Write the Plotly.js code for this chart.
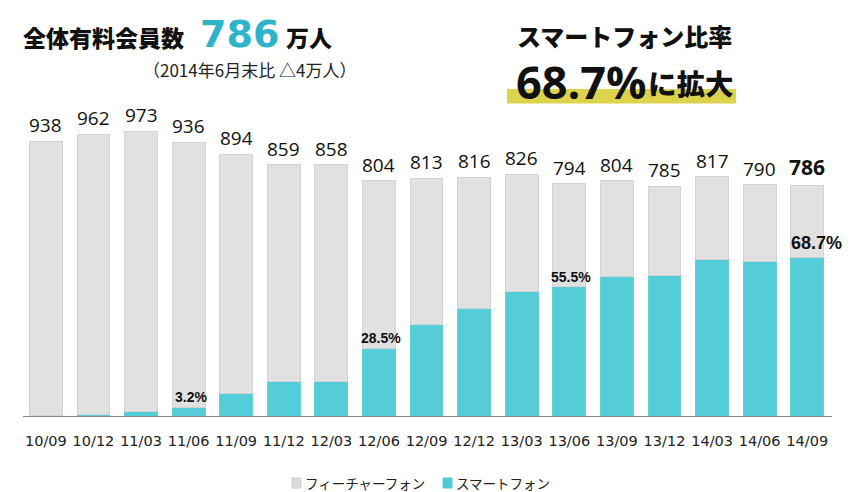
<!DOCTYPE html>
<html>
<head>
<meta charset="utf-8">
<script src="https://cdn.plot.ly/plotly-3.0.1.min.js"></script>
<style>
html,body{margin:0;padding:0;background:#fff;}
#chart{width:859px;height:492px;}
</style>
</head>
<body>
<div id="chart"></div>
<script>
// ---- data ----
var categories = ['10/09','10/12','11/03','11/06','11/09','11/12','12/03','12/06','12/09','12/12','13/03','13/06','13/09','13/12','14/03','14/06','14/09'];
var totalMembers = [938, 962, 973, 936, 894, 859, 858, 804, 813, 816, 826, 794, 804, 785, 817, 790, 786];
var smartphone = [1, 4, 14, 30, 76, 117, 117, 232, 314, 368, 426, 441, 477, 480, 534, 527, 540];
var featurePhone = totalMembers.map(function(t, i){ return t - smartphone[i]; });
var pctLabels = ['', '', '', '3.2%', '', '', '', '28.5%', '', '', '', '55.5%', '', '', '', '', '68.7%'];
var seriesNames = ['フィーチャーフォン', 'スマートフォン'];

// ---- layout helpers (pixel -> paper) ----
var L = 23, T = 124, W = 809, H = 292;
function px(x){ return (x - L) / W; }
function py(y){ return (T + H - y) / H; }

var JP = '"Noto Sans CJK JP", "Noto Sans", sans-serif';

var traces = [
  {
    type: 'bar', name: seriesNames[1], x: categories, y: smartphone,
    marker: {color: '#55cdd8', line: {color: '#62d3cd', width: 1}},
    hoverinfo: 'skip'
  },
  {
    type: 'bar', name: seriesNames[0], x: categories, y: featurePhone,
    marker: {color: '#e1e1e1', line: {color: '#d3d3d3', width: 1}},
    hoverinfo: 'skip'
  }
];

var annotations = [];
categories.forEach(function(c, i){
  var last = (i === categories.length - 1);
  annotations.push({
    x: c, y: totalMembers[i], xref: 'x', yref: 'y',
    text: String(totalMembers[i]), showarrow: false,
    yanchor: 'middle', yshift: last ? 19 : 16,
    font: {family: '"Open Sans", sans-serif', size: last ? 21 : 19, color: '#111', weight: last ? 'bold' : 'normal'}
  });
  if (pctLabels[i]) {
    annotations.push({
      x: c, y: smartphone[i], xref: 'x', yref: 'y',
      text: pctLabels[i], showarrow: false,
      yanchor: 'middle', yshift: last ? 15 : 10, xshift: last ? 9 : 2,
      font: {family: '"Liberation Sans", Arial, sans-serif', size: last ? 18 : 14, color: '#111', weight: 'bold'}
    });
  }
});

// headline texts
annotations.push(
  {xref:'paper', yref:'paper', x: px(21), y: py(37), xanchor:'left', yanchor:'middle', showarrow:false,
   text:'全体有料会員数', font:{family: JP, size: 23, color:'#111', weight: 900}},
  {xref:'paper', yref:'paper', x: px(198), y: py(34), xanchor:'left', yanchor:'middle', showarrow:false,
   text:'786', font:{family:'"DejaVu Sans", sans-serif', size: 38, color:'#2db4c9', weight: 'bold'}},
  {xref:'paper', yref:'paper', x: px(284), y: py(37), xanchor:'left', yanchor:'middle', showarrow:false,
   text:'万人', font:{family: JP, size: 23, color:'#111', weight: 900}},
  {xref:'paper', yref:'paper', x: px(141), y: py(70), xanchor:'left', yanchor:'middle', showarrow:false,
   text:'（2014年6月末比 △4万人）', font:{family: JP, size: 17, color:'#222'}},
  {xref:'paper', yref:'paper', x: px(624), y: py(36), xanchor:'center', yanchor:'middle', showarrow:false,
   text:'スマートフォン比率', font:{family: JP, size: 24, color:'#111', weight: 900}},
  {xref:'paper', yref:'paper', x: px(514), y: py(81), xanchor:'left', yanchor:'middle', showarrow:false,
   text:'68.7%', font:{family:'"Open Sans", sans-serif', size: 45, color:'#111', weight: 'bold'}},
  {xref:'paper', yref:'paper', x: px(736), y: py(82), xanchor:'right', yanchor:'middle', showarrow:false,
   text:'に拡大', font:{family: JP, size: 28.5, color:'#111', weight: 900}},
  // legend texts
  {xref:'paper', yref:'paper', x: px(303), y: py(483), xanchor:'left', yanchor:'middle', showarrow:false,
   text: seriesNames[0], font:{family: JP, size: 13.5, color:'#222'}},
  {xref:'paper', yref:'paper', x: px(454), y: py(483), xanchor:'left', yanchor:'middle', showarrow:false,
   text: seriesNames[1], font:{family: JP, size: 13.5, color:'#222'}}
);

var shapes = [
  {type:'rect', xref:'paper', yref:'paper', x0: px(507), x1: px(736), y0: py(89), y1: py(103.5),
   fillcolor:'#dcd24c', line:{width:0}, layer:'below'},
  {type:'rect', xref:'paper', yref:'paper', x0: px(292), x1: px(301), y0: py(478), y1: py(488),
   fillcolor:'#dadada', line:{color:'#cccccc', width:1}},
  {type:'rect', xref:'paper', yref:'paper', x0: px(443), x1: px(452), y0: py(478), y1: py(488),
   fillcolor:'#4fc9d5', line:{color:'#5ad0cc', width:1}}
];

var layout = {
  width: 859, height: 492,
  margin: {l: L, r: 859 - L - W, t: T, b: 492 - T - H, pad: 0},
  paper_bgcolor: '#fff', plot_bgcolor: '#fff',
  barmode: 'stack', bargap: 0.31,
  showlegend: false,
  xaxis: {
    type: 'category', range: [-0.48, 16.52], fixedrange: true,
    showline: true, linecolor: '#8a8a8a', linewidth: 1,
    showgrid: false, zeroline: false, ticks: '', ticklabelstandoff: 12,
    tickfont: {family: '"DejaVu Sans", sans-serif', size: 14.5, color: '#222'}
  },
  yaxis: {
    range: [0, H / 0.2927], showgrid: false, zeroline: false, showline: false,
    showticklabels: false, ticks: '', fixedrange: true
  },
  annotations: annotations,
  shapes: shapes
};

Plotly.newPlot('chart', traces, layout, {staticPlot: true, displayModeBar: false});
</script>
</body>
</html>
